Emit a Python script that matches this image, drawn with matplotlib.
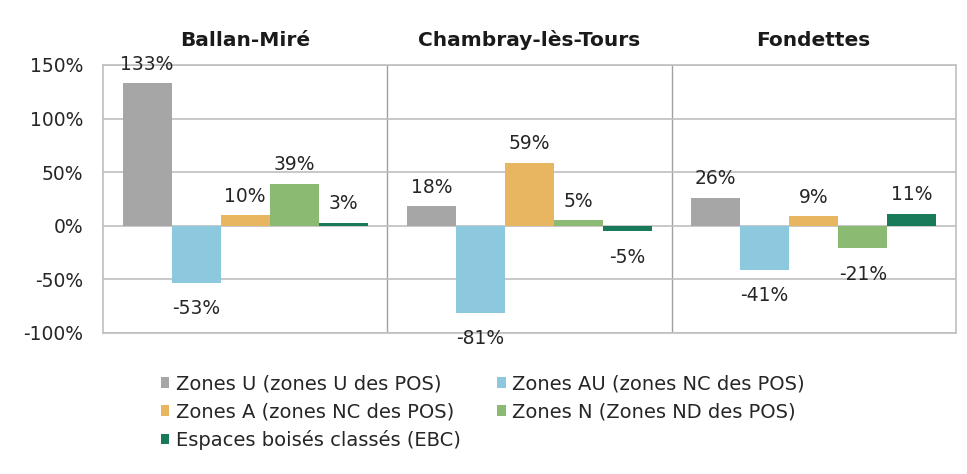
import numpy as np
import matplotlib.pyplot as plt

communes = ["Ballan-Miré", "Chambray-lès-Tours", "Fondettes"]
series = ["Zones U (zones U des POS)", "Zones AU (zones NC des POS)",
          "Zones A (zones NC des POS)", "Zones N (Zones ND des POS)",
          "Espaces boisés classés (EBC)"]
zones_u = [1.33, 0.18, 0.26]
zones_au = [-0.53, -0.81, -0.41]
zones_a = [0.10, 0.59, 0.09]
zones_n = [0.39, 0.05, -0.21]
ebc = [0.03, -0.05, 0.11]
colors = ["#A6A6A6", "#8CC8DE", "#E8B560", "#8BBB72", "#187A5A"]

values = [zones_u, zones_au, zones_a, zones_n, ebc]

fig = plt.figure(figsize=(9.67, 4.74), dpi=100)
ax = fig.add_axes([0.1065, 0.2975, 0.882, 0.5654])

x = np.arange(len(communes))
w = 0.1725
bars = []
for j, (name, vals, c) in enumerate(zip(series, values, colors)):
    pos = x + (j - 2) * w
    b = ax.bar(pos, vals, w, color=c, label=name, zorder=3)
    bars.append(b)
    for px, v in zip(pos, vals):
        off = 19 if v >= 0 else -26
        ax.annotate(f"{round(v * 100):d}%", (px, v), xytext=(0, off),
                    textcoords="offset pixels", ha="center", va="center",
                    fontsize=13.5, color="#262626", zorder=4)

ax.set_xlim(-0.5, 2.5)
ax.set_ylim(-1.0, 1.5)
ax.set_yticks(np.arange(-1.0, 1.51, 0.5))
ax.set_yticklabels([f"{int(round(t * 100))}%" for t in np.arange(-1.0, 1.51, 0.5)])
ax.yaxis.grid(True, color="#BFBFBF", linewidth=1.2, zorder=0)
for sep in [0.5, 1.5]:
    ax.axvline(sep, color="#A0A0A0", linewidth=1.0, zorder=1)

ax.xaxis.tick_top()
ax.set_xticks(x)
ax.set_xticklabels(communes, fontsize=14.5, fontweight="bold", color="#1a1a1a")
ax.tick_params(axis="x", length=0, pad=11)
ax.tick_params(axis="y", length=0, pad=14, labelsize=13.5, labelcolor="#262626")
for s in ax.spines.values():
    s.set_color("#BFBFBF")
    s.set_linewidth(1.2)

order = [0, 2, 4, 1, 3]
handles = [bars[i] for i in order]
labels = [series[i] for i in order]
fig.legend(handles, labels, loc="upper left", bbox_to_anchor=(0.166, 0.21),
           ncol=2, frameon=False, fontsize=14, handlelength=0.45,
           handleheight=0.45, handletextpad=0.35, columnspacing=1.85,
           labelspacing=0.45, borderaxespad=0, borderpad=0,
           labelcolor="#262626")

fig.savefig("out.png", dpi=100)
